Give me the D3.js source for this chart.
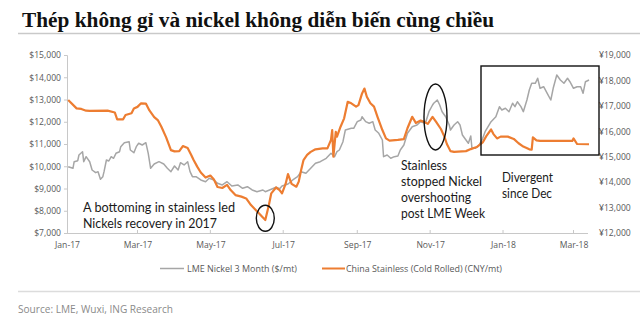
<!DOCTYPE html>
<html><head><meta charset="utf-8">
<script src="https://cdn.jsdelivr.net/npm/d3@7"></script>
<style>body{margin:0;background:#fff;overflow:hidden}</style>
</head><body><svg id="c" width="640" height="323"></svg>
<script>
const title = "Thép không gỉ và nickel không diễn biến cùng chiều";
const sourceText = "Source: LME, Wuxi, ING Research";
const seriesNames = ["LME Nickel 3 Month ($/mt)", "China Stainless (Cold Rolled) (CNY/mt)"];
const xTickDates = ["2017-01-01","2017-03-01","2017-05-01","2017-07-01","2017-09-01","2017-11-01","2018-01-01","2018-03-01"];
const xTickLabels = ["Jan-17","Mar-17","May-17","Jul-17","Sep-17","Nov-17","Jan-18","Mar-18"];
const leftTicks = [7000,8000,9000,10000,11000,12000,13000,14000,15000];
const rightTicks = [12000,13000,14000,15000,16000,17000,18000,19000];

const nickelDates = ["2017-01-02","2017-01-06","2017-01-07","2017-01-10","2017-01-11","2017-01-14","2017-01-15","2017-01-17","2017-01-20","2017-01-22","2017-01-25","2017-01-27","2017-01-29","2017-01-31","2017-02-01","2017-02-03","2017-02-05","2017-02-07","2017-02-09","2017-02-11","2017-02-14","2017-02-15","2017-02-18","2017-02-22","2017-02-23","2017-02-26","2017-02-28","2017-03-02","2017-03-05","2017-03-08","2017-03-10","2017-03-12","2017-03-15","2017-03-19","2017-03-23","2017-03-26","2017-03-29","2017-04-01","2017-04-04","2017-04-06","2017-04-09","2017-04-12","2017-04-14","2017-04-16","2017-04-19","2017-04-23","2017-04-27","2017-04-30","2017-05-04","2017-05-07","2017-05-11","2017-05-15","2017-05-19","2017-05-24","2017-05-28","2017-06-01","2017-06-05","2017-06-09","2017-06-14","2017-06-16","2017-06-21","2017-06-25","2017-06-28","2017-06-30","2017-07-05","2017-07-09","2017-07-13","2017-07-16","2017-07-20","2017-07-24","2017-07-28","2017-08-01","2017-08-06","2017-08-10","2017-08-13","2017-08-15","2017-08-17","2017-08-20","2017-08-22","2017-08-27","2017-08-29","2017-09-01","2017-09-04","2017-09-05","2017-09-08","2017-09-11","2017-09-14","2017-09-16","2017-09-19","2017-09-22","2017-09-23","2017-09-26","2017-09-29","2017-10-02","2017-10-05","2017-10-07","2017-10-10","2017-10-13","2017-10-17","2017-10-21","2017-10-24","2017-10-28","2017-10-31","2017-11-03","2017-11-04","2017-11-07","2017-11-09","2017-11-11","2017-11-14","2017-11-17","2017-11-18","2017-11-21","2017-11-24","2017-11-26","2017-11-28","2017-12-01","2017-12-03","2017-12-05","2017-12-06","2017-12-09","2017-12-12","2017-12-15","2017-12-17","2017-12-22","2017-12-26","2017-12-29","2017-12-31","2018-01-03","2018-01-06","2018-01-09","2018-01-11","2018-01-13","2018-01-16","2018-01-18","2018-01-21","2018-01-23","2018-01-25","2018-01-28","2018-01-30","2018-02-01","2018-02-04","2018-02-07","2018-02-10","2018-02-12","2018-02-15","2018-02-18","2018-02-21","2018-02-24","2018-02-26","2018-03-01","2018-03-04","2018-03-07","2018-03-09","2018-03-11","2018-03-14"];
const nickelValues = [9980,9908,10205,10250,10506,10654,10205,10430,10205,9832,9711,9756,9414,9531,9756,10281,10236,10430,10358,10582,10654,10879,11059,11104,10731,10609,10879,11032,10955,11059,10582,9908,10101,10205,10101,9908,9756,10012,9832,10160,10057,10205,9756,9531,9531,9383,9306,9459,9383,9234,9158,9306,9113,9158,9010,9081,8933,8857,8933,8857,8965,9054,8991,9113,9203,9383,9531,9756,9683,9908,10133,10205,10358,10582,10430,10654,10731,11104,11630,11706,11706,12003,12079,12227,12003,11930,12003,11630,11481,11180,10430,10506,10358,10430,10461,10731,10955,11481,11778,11854,12003,11930,12452,12753,12829,12978,12753,12452,12227,11854,11630,11854,12003,11854,11405,11180,11032,11360,10807,10807,10955,11257,11553,12003,12227,12677,12528,12605,12452,12829,12677,12901,12677,12452,12978,13427,13728,13728,13953,13504,13575,13279,12978,13504,14101,13877,13728,13953,13800,13504,13575,13575,13279,13800,13877];

const stainlessDates = ["2017-01-02","2017-01-09","2017-01-13","2017-01-17","2017-01-20","2017-02-04","2017-02-10","2017-02-12","2017-02-17","2017-02-19","2017-02-24","2017-02-26","2017-03-01","2017-03-04","2017-03-08","2017-03-11","2017-03-15","2017-03-18","2017-03-21","2017-03-25","2017-03-29","2017-04-01","2017-04-05","2017-04-08","2017-04-12","2017-04-15","2017-04-17","2017-04-20","2017-04-23","2017-04-27","2017-05-01","2017-05-04","2017-05-07","2017-05-11","2017-05-15","2017-05-18","2017-05-22","2017-05-27","2017-05-31","2017-06-04","2017-06-08","2017-06-14","2017-06-16","2017-06-19","2017-06-21","2017-06-25","2017-06-28","2017-06-30","2017-07-03","2017-07-05","2017-07-08","2017-07-12","2017-07-14","2017-07-16","2017-07-18","2017-07-21","2017-07-24","2017-07-28","2017-08-03","2017-08-07","2017-08-10","2017-08-11","2017-08-12","2017-08-14","2017-08-15","2017-08-18","2017-08-21","2017-08-24","2017-08-27","2017-08-31","2017-09-02","2017-09-05","2017-09-07","2017-09-09","2017-09-12","2017-09-15","2017-09-18","2017-09-22","2017-09-25","2017-09-28","2017-10-05","2017-10-10","2017-10-13","2017-10-17","2017-10-20","2017-10-24","2017-10-27","2017-10-30","2017-11-03","2017-11-06","2017-11-10","2017-11-13","2017-11-15","2017-11-18","2017-11-21","2017-12-01","2017-12-05","2017-12-10","2017-12-15","2017-12-18","2017-12-22","2017-12-24","2017-12-27","2017-12-30","2018-01-05","2018-01-10","2018-01-14","2018-01-18","2018-01-23","2018-01-25","2018-01-26","2018-01-29","2018-02-01","2018-02-28","2018-03-01","2018-03-04","2018-03-14"];
const stainlessValues = [17230,16900,16880,16810,16800,16810,16740,16470,16470,16640,16710,16900,16960,17100,17090,16820,16560,16440,16180,15760,15260,15210,15220,15420,15340,15070,14870,14610,14380,14180,14260,14100,13810,13770,13890,13690,13490,13430,13360,13100,12900,12610,12510,13100,13560,13790,13690,13560,13930,14320,13930,13820,14020,14480,14870,15070,15190,15290,15330,15330,15660,16050,15000,15980,15790,16180,16510,17160,17100,16970,17030,17490,17680,17360,17100,16970,16560,16050,15720,15630,15660,15690,16120,16570,16330,16420,16370,16290,16570,16370,16090,15780,15500,15220,15190,15220,15300,15380,15560,15810,16070,15890,15720,15790,15790,15700,15530,15400,15290,15280,15760,15640,15620,15620,15720,15500,15490];

const annotations = [
  {lines:["A bottoming in stainless led","Nickels recovery in 2017"], x:83, y:211.5, w:[152,134]},
  {lines:["Stainless","stopped Nickel","overshooting","post LME Week"], x:401, y:169.5, w:[46,81,70,84]},
  {lines:["Divergent","since Dec"], x:502, y:181.5, w:[51,50]}
];

const parse = d3.timeParse("%Y-%m-%d");
const svg = d3.select("#c");
const ORANGE = "#ED7D31", GREY = "#A6A6A6";
const plotTop = 55, plotBottom = 233, plotLeft = 67, plotRight = 588;

const x = d3.scaleTime().domain([parse("2017-01-01"), parse("2018-03-01")]).range([67, 573.5]);
const yL = d3.scaleLinear().domain([7000, 15000]).range([plotBottom, plotTop]);
const yR = d3.scaleLinear().domain([12000, 19000]).range([plotBottom, plotTop]);

// Title
svg.append("text").attr("x", 22).attr("y", 26.5)
  .attr("font-family", "'Liberation Serif', 'DejaVu Serif', serif").attr("font-weight", "bold")
  .attr("font-size", 20).attr("fill", "#111")
  .attr("textLength", 472).attr("lengthAdjust", "spacingAndGlyphs").text(title);
svg.append("line").attr("x1", 18).attr("x2", 640).attr("y1", 33.5).attr("y2", 33.5)
  .attr("stroke", "#c9c9c9").attr("stroke-width", 1.5);

const axisFont = "'Open Sans', 'DejaVu Sans', sans-serif";

// Left axis
const gL = svg.append("g").attr("transform", `translate(${plotLeft},0)`)
  .call(d3.axisLeft(yL).tickValues(leftTicks).tickSize(3).tickPadding(3).tickFormat(d => "$" + d3.format(",")(d)));
gL.select(".domain").attr("stroke", "#c8c8c8");
gL.selectAll(".tick line").attr("stroke", "#c8c8c8");
gL.selectAll("text").attr("font-family", axisFont).attr("font-size", 8.6).attr("fill", "#595959");

// Right axis (labels only)
const gR = svg.append("g").attr("transform", `translate(${plotRight + 8},0)`)
  .call(d3.axisRight(yR).tickValues(rightTicks).tickSize(0).tickPadding(3).tickFormat(d => "¥" + d3.format(",")(d)));
gR.select(".domain").remove();
gR.selectAll("text").attr("font-family", axisFont).attr("font-size", 8.6).attr("fill", "#595959");

// Bottom axis
const gX = svg.append("g").attr("transform", `translate(0,${plotBottom})`)
  .call(d3.axisBottom(x).tickValues(xTickDates.map(parse)).tickSize(0).tickPadding(9)
    .tickFormat((d, i) => xTickLabels[i]));
gX.select(".domain").remove();
gX.selectAll("text").attr("font-family", axisFont).attr("font-size", 8.6).attr("fill", "#595959");
svg.append("line").attr("x1", plotLeft - 2).attr("x2", plotRight).attr("y1", plotBottom + 0.5).attr("y2", plotBottom + 0.5)
  .attr("stroke", "#c8c8c8");
svg.append("g").selectAll("line").data(xTickDates.slice(1).map(parse)).join("line")
  .attr("x1", d => x(d)).attr("x2", d => x(d)).attr("y1", plotBottom - 3).attr("y2", plotBottom + 0.5)
  .attr("stroke", "#c8c8c8");

// Series
const nickel = nickelDates.map((d, i) => ({date: parse(d), v: nickelValues[i]}));
const stainless = stainlessDates.map((d, i) => ({date: parse(d), v: stainlessValues[i]}));
svg.append("path").datum(nickel)
  .attr("d", d3.line().x(d => x(d.date)).y(d => yL(d.v)))
  .attr("fill", "none").attr("stroke", GREY).attr("stroke-width", 1.5).attr("stroke-linejoin", "round");
svg.append("path").datum(stainless)
  .attr("d", d3.line().x(d => x(d.date)).y(d => yR(d.v)))
  .attr("fill", "none").attr("stroke", ORANGE).attr("stroke-width", 2.2).attr("stroke-linejoin", "round");

// Annotation shapes
svg.append("ellipse").attr("cx", 265.3).attr("cy", 218.3).attr("rx", 9).attr("ry", 13)
  .attr("fill", "none").attr("stroke", "#111").attr("stroke-width", 1.4);
svg.append("ellipse").attr("cx", 435.5).attr("cy", 117).attr("rx", 11.5).attr("ry", 33)
  .attr("fill", "none").attr("stroke", "#111").attr("stroke-width", 1.4);
svg.append("rect").attr("x", 481).attr("y", 66).attr("width", 118).attr("height", 89)
  .attr("fill", "none").attr("stroke", "#111").attr("stroke-width", 1.4);

// Annotation texts
annotations.forEach(a => {
  a.lines.forEach((t, i) => {
    svg.append("text").attr("x", a.x).attr("y", a.y + i * 16)
      .attr("font-family", "Lato, 'Open Sans', sans-serif").attr("font-size", 13).attr("fill", "#1a1a1a")
      .attr("textLength", a.w[i]).attr("lengthAdjust", "spacingAndGlyphs").text(t);
  });
});

// Legend
const legend = [
  {name: seriesNames[0], color: GREY, x1: 160, x2: 184, tx: 187, w: 110, sw: 1.5},
  {name: seriesNames[1], color: ORANGE, x1: 322, x2: 345, tx: 346, w: 156, sw: 2}
];
legend.forEach(l => {
  svg.append("line").attr("x1", l.x1).attr("x2", l.x2).attr("y1", 268.5).attr("y2", 268.5)
    .attr("stroke", l.color).attr("stroke-width", l.sw);
  svg.append("text").attr("x", l.tx).attr("y", 271.8)
    .attr("font-family", axisFont).attr("font-size", 9).attr("fill", "#595959")
    .attr("textLength", l.w).attr("lengthAdjust", "spacingAndGlyphs").text(l.name);
});

// Footer
svg.append("line").attr("x1", 18).attr("x2", 640).attr("y1", 291.5).attr("y2", 291.5)
  .attr("stroke", "#dcdcdc").attr("stroke-width", 1.5);
svg.append("text").attr("x", 18).attr("y", 313)
  .attr("font-family", axisFont).attr("font-size", 10).attr("fill", "#8a8a8a")
  .attr("textLength", 155).attr("lengthAdjust", "spacingAndGlyphs").text(sourceText);
</script></body></html>
